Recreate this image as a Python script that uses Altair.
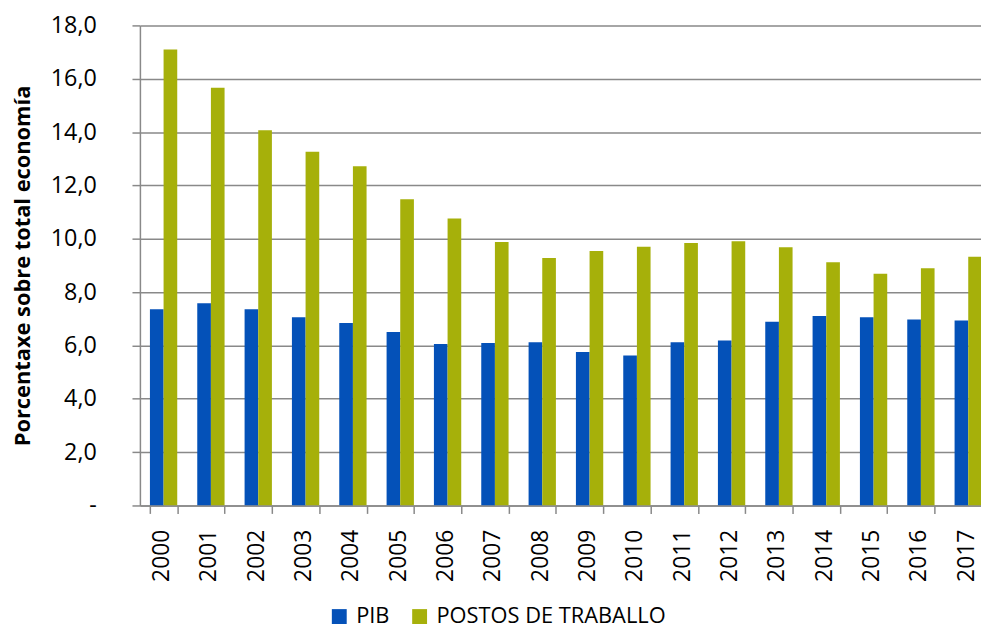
import altair as alt
import pandas as pd

years = ["2000", "2001", "2002", "2003", "2004", "2005", "2006", "2007", "2008",
         "2009", "2010", "2011", "2012", "2013", "2014", "2015", "2016", "2017"]
pib = [7.36, 7.58, 7.36, 7.06, 6.84, 6.50, 6.05, 6.09, 6.12,
       5.75, 5.62, 6.12, 6.19, 6.89, 7.10, 7.06, 6.97, 6.94]
postos = [17.10, 15.66, 14.07, 13.26, 12.72, 11.48, 10.76, 9.88, 9.28,
          9.54, 9.70, 9.84, 9.91, 9.68, 9.12, 8.69, 8.89, 9.33]
series = ["PIB", "POSTOS DE TRABALLO"]
colors = ["#0451B8", "#A6B00A"]
y_ticks = [0, 2, 4, 6, 8, 10, 12, 14, 16, 18]

rows = []
for i, yr in enumerate(years):
    rows.append({"year": yr, "serie": series[0], "value": pib[i]})
    rows.append({"year": yr, "serie": series[1], "value": postos[i]})
df = pd.DataFrame(rows)

FONT = "Open Sans"
GRID = "#898989"

chart = alt.Chart(df).mark_bar(clip=True).encode(
    x=alt.X(
        "year:O", sort=years, title=None,
        scale=alt.Scale(range=[0, 859], paddingInner=0.423, paddingOuter=0.2115),
        axis=alt.Axis(labelAngle=-90, labelAlign="right", labelBaseline="middle",
                      labelFontSize=23, labelFont=FONT, labelColor="#000000",
                      labelOffset=-2,
                      tickBand="extent", tickSize=8, tickColor=GRID, tickWidth=1.5,
                      domainColor=GRID, domainWidth=1.5, labelPadding=16, grid=False),
    ),
    xOffset=alt.XOffset("serie:N", sort=series),
    y=alt.Y(
        "value:Q", scale=alt.Scale(domain=[0, 18], nice=False),
        axis=alt.Axis(values=y_ticks,
                      labelExpr="datum.value == 0 ? '-' : replace(format(datum.value, '.1f'), '.', ',')",
                      labelFontSize=23.5, labelFont=FONT, labelColor="#000000",
                      title="Porcentaxe sobre total economía", titleFont=FONT,
                      titleFontSize=22, titleFontWeight="bold", titleColor="#000000",
                      titleX=-118, titleY=242, titleBaseline="middle", titleAngle=-90,
                      tickSize=8, tickColor=GRID, tickWidth=1.5, labelPadding=36,
                      grid=True, gridColor=GRID, gridWidth=1.5,
                      domainColor=GRID, domainWidth=1.5),
    ),
    color=alt.Color(
        "serie:N", sort=series,
        scale=alt.Scale(domain=series, range=colors),
        legend=alt.Legend(title=None, orient="none", legendX=190, legendY=585,
                          direction="horizontal", symbolType="square", symbolSize=225,
                          labelFontSize=22, labelFont=FONT, labelColor="#000000",
                          labelLimit=400, columnPadding=19, labelOffset=6, padding=0,
                          symbolStrokeWidth=0),
    ),
).properties(
    width=848, height=484,
    autosize=alt.AutoSizeParams(type="none"),
    padding={"left": 133, "top": 15, "right": 0, "bottom": 123},
).configure_view(stroke=None)

chart.save("out.html", embed_options={"renderer": "svg", "actions": False})
